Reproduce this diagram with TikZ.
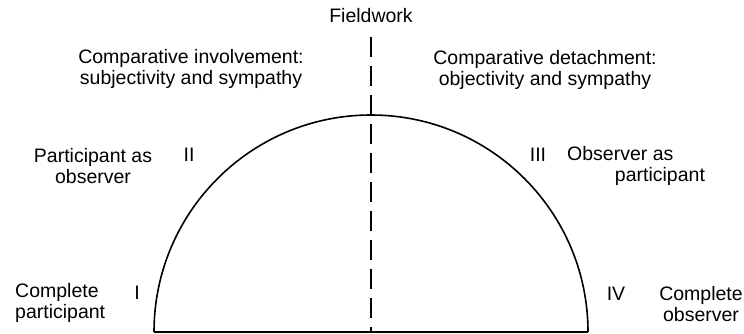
\documentclass[tikz,border=0pt]{standalone}
\usepackage{fontspec}
\setmainfont{Liberation Sans}
\begin{document}
\begin{tikzpicture}[
  x=1pt, y=1pt,
  lbl/.style={font=\fontsize{19.5}{21}\selectfont, align=center, inner sep=0pt},
  num/.style={font=\fontsize{19.5}{21}\selectfont, inner sep=0pt}
]
\useasboundingbox (0,0) rectangle (744,333);
\coordinate (centre) at (371,1);
\coordinate (baseL) at (154,1);
\coordinate (baseR) at (588,1);
% labels
\node[lbl] (fieldwork) at (371,317) {Fieldwork};
\node[lbl] (involve) at (191,264) {Comparative involvement:\\subjectivity and sympathy};
\node[lbl] (detach) at (545,263) {Comparative detachment:\\objectivity and sympathy};
\node[lbl] (partobs) at (93,167) {Participant as\\observer};
\node[lbl, align=left, anchor=west] (obspart) at (567,167) {Observer as\\\hspace*{2.45em}participant};
\node[lbl, align=left, anchor=west] (compart) at (15,30) {Complete\\participant};
\node[lbl] (compobs) at (701,29) {Complete\\observer};
\node[num] (romI) at (137,40) {I};
\node[num] (romII) at (189,178) {II};
\node[num] (romIII) at (538,178) {III};
\node[num] (romIV) at (616,39) {IV};
% half circle and axis
\draw[line width=1.6pt] (baseL) arc[start angle=180, end angle=0, radius=217];
\draw[line width=1.2pt] (baseL) -- (baseR);
\draw[line width=1.8pt, dash pattern=on 20pt off 9pt, shorten <=14pt] (fieldwork) -- (centre);
\end{tikzpicture}
\end{document}
